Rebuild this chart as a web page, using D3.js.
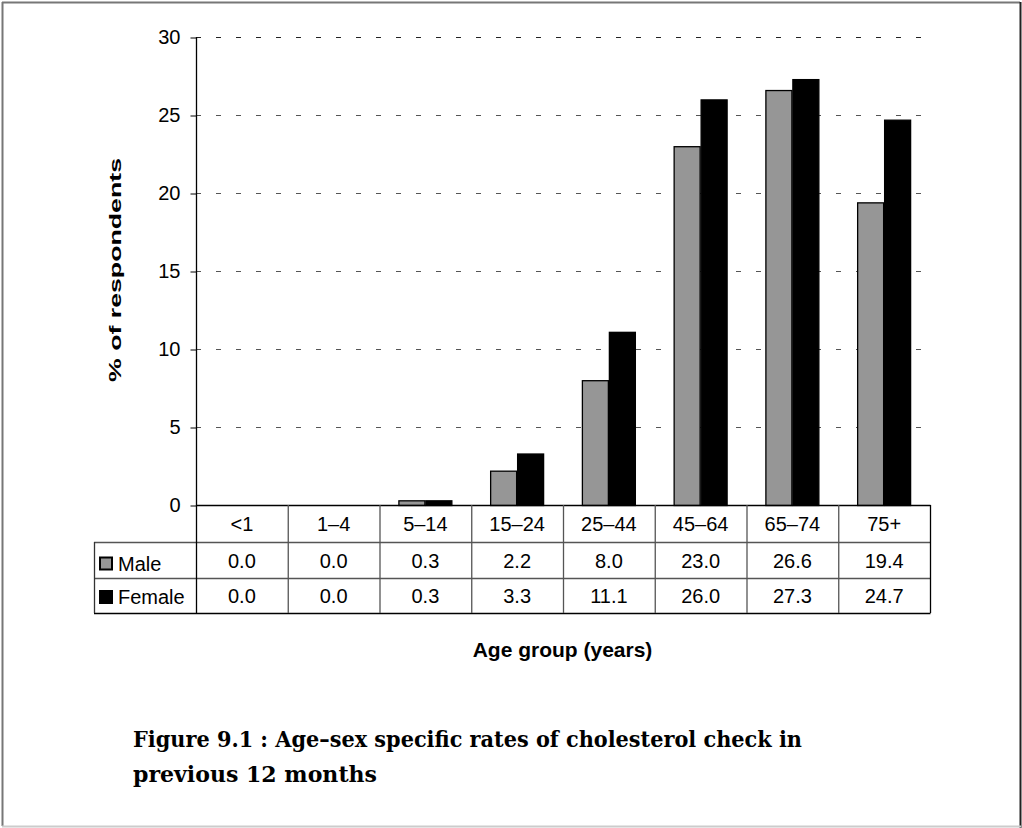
<!DOCTYPE html>
<html><head><meta charset="utf-8">
<script src="https://cdn.jsdelivr.net/npm/d3@7"></script>
<style>body{margin:0;background:#fff}svg{display:block}</style>
</head><body>
<script>
const categories = ["<1","1–4","5–14","15–24","25–44","45–64","65–74","75+"];
const male = [0.0,0.0,0.3,2.2,8.0,23.0,26.6,19.4];
const female = [0.0,0.0,0.3,3.3,11.1,26.0,27.3,24.7];
const seriesNames = ["Male","Female"];
const seriesColors = ["#969696","#000000"];
const yTicks = [0,5,10,15,20,25,30];

const W=1022,H=828;
const svg=d3.select("body").append("svg").attr("width",W).attr("height",H);
svg.append("rect").attr("width",W).attr("height",H).attr("fill","#fff");
// frame
svg.append("line").attr("x1",2).attr("x2",1020).attr("y1",2.5).attr("y2",2.5).attr("stroke","#777").attr("stroke-width",2);
svg.append("line").attr("x1",2.5).attr("x2",2.5).attr("y1",2).attr("y2",826).attr("stroke","#777").attr("stroke-width",2);
svg.append("line").attr("x1",1020.5).attr("x2",1020.5).attr("y1",2).attr("y2",828).attr("stroke","#222").attr("stroke-width",2);
svg.append("line").attr("x1",2).attr("x2",1021).attr("y1",826.5).attr("y2",826.5).attr("stroke","#ccc").attr("stroke-width",2);

const L=196,R=930,T=37,B=505;
const x=d3.scaleBand().domain(categories).range([L,R]).paddingInner(0).paddingOuter(0);
const y=d3.scaleLinear().domain([0,30]).range([B,T]);
const inner=d3.scaleBand().domain(seriesNames).range([0,x.bandwidth()]).paddingOuter(0.7).paddingInner(0);

const font="'Liberation Sans', Arial, sans-serif";
// gridlines
svg.append("g").selectAll("line").data(yTicks.filter(d=>d>0)).join("line")
  .attr("x1",L).attr("x2",R).attr("y1",d=>Math.round(y(d))+0.5).attr("y2",d=>Math.round(y(d))+0.5)
  .attr("stroke",d=>d===30?"#222":"#555").attr("stroke-dasharray","5,15");
// y axis
const ya=svg.append("g").attr("transform",`translate(${L+0.5},0.5)`)
  .call(d3.axisLeft(y).tickValues(yTicks).tickSize(6).tickPadding(10).tickFormat(d3.format("d")));
ya.selectAll(".domain").attr("stroke","#000").attr("stroke-width",1.3).attr("d",`M0,${T-0.5}V${B}`);
ya.selectAll("line").attr("stroke","#000");
ya.selectAll("text").attr("font-family",font).attr("font-size",20).attr("fill","#000");

// bars
const data=[male,female];
seriesNames.forEach((s,si)=>{
  svg.append("g").selectAll("rect").data(categories).join("rect")
    .attr("x",d=>x(d)+inner(s)+0.5)
    .attr("width",inner.bandwidth()-1)
    .attr("y",(d,i)=>y(data[si][i])+0.5)
    .attr("height",(d,i)=>Math.max(0,B-y(data[si][i])))
    .attr("fill",seriesColors[si]).attr("stroke","#000").attr("stroke-width",1.3);
});

// table
const rowTop=[B,542,578,613];
const TL=94;
const tg=svg.append("g");
const ln=(x1,y1,x2,y2,c)=>tg.append("line").attr("x1",x1).attr("y1",y1).attr("x2",x2).attr("y2",y2).attr("stroke",c||"#000").attr("stroke-width",1.3);
ln(L,B+0.5,R+0.5,B+0.5);
ln(TL,rowTop[1]+0.5,R+0.5,rowTop[1]+0.5,"#555");
ln(TL,rowTop[2]+0.5,R+0.5,rowTop[2]+0.5,"#555");
ln(TL,rowTop[3]+0.5,R+0.5,rowTop[3]+0.5);
ln(TL+0.5,rowTop[1],TL+0.5,rowTop[3],"#333");
categories.forEach((c,i)=>{ ln(x(c)+0.5,B,x(c)+0.5,rowTop[3], i===0?"#000":"#555"); });
ln(R+0.5,B,R+0.5,rowTop[3]);
const fmt=d3.format(".1f");
tg.selectAll("text.cat").data(categories).join("text").attr("class","cat")
  .attr("x",d=>x(d)+x.bandwidth()/2).attr("y",531)
  .attr("text-anchor","middle").attr("font-family",font).attr("font-size",20).text(d=>d);
const valBase=[568,603], labBase=[570.5,604];
[male,female].forEach((arr,si)=>{
  tg.selectAll(null).data(arr).join("text")
    .attr("x",(d,i)=>x(categories[i])+x.bandwidth()/2).attr("y",valBase[si])
    .attr("text-anchor","middle").attr("font-family",font).attr("font-size",20).text(d=>fmt(d));
  tg.append("rect").attr("x",100).attr("y",labBase[si]-13).attr("width",12).attr("height",12)
    .attr("fill",seriesColors[si]).attr("stroke","#000").attr("stroke-width",2);
  tg.append("text").attr("x",118).attr("y",labBase[si]).attr("font-family",font).attr("font-size",20).text(seriesNames[si]);
});

// axis titles
svg.append("text").attr("transform","translate(121,270) rotate(-90)").attr("text-anchor","middle")
  .attr("font-family",font).attr("font-weight","bold").attr("font-size",17)
  .attr("textLength",224).attr("lengthAdjust","spacingAndGlyphs").text("% of respondents");
svg.append("text").attr("x",562.5).attr("y",657).attr("text-anchor","middle")
  .attr("font-family",font).attr("font-weight","bold").attr("font-size",21).text("Age group (years)");

// caption
const serif="'DejaVu Serif', 'Liberation Serif', serif";
svg.append("text").attr("x",133).attr("y",747).attr("font-family",serif).attr("font-weight","bold").attr("font-size",23)
  .attr("textLength",669).attr("lengthAdjust","spacingAndGlyphs")
  .text("Figure 9.1 : Age–sex specific rates of cholesterol check in");
svg.append("text").attr("x",133).attr("y",782).attr("font-family",serif).attr("font-weight","bold").attr("font-size",23)
  .attr("textLength",244).attr("lengthAdjust","spacingAndGlyphs")
  .text("previous 12 months");
</script>
</body></html>
